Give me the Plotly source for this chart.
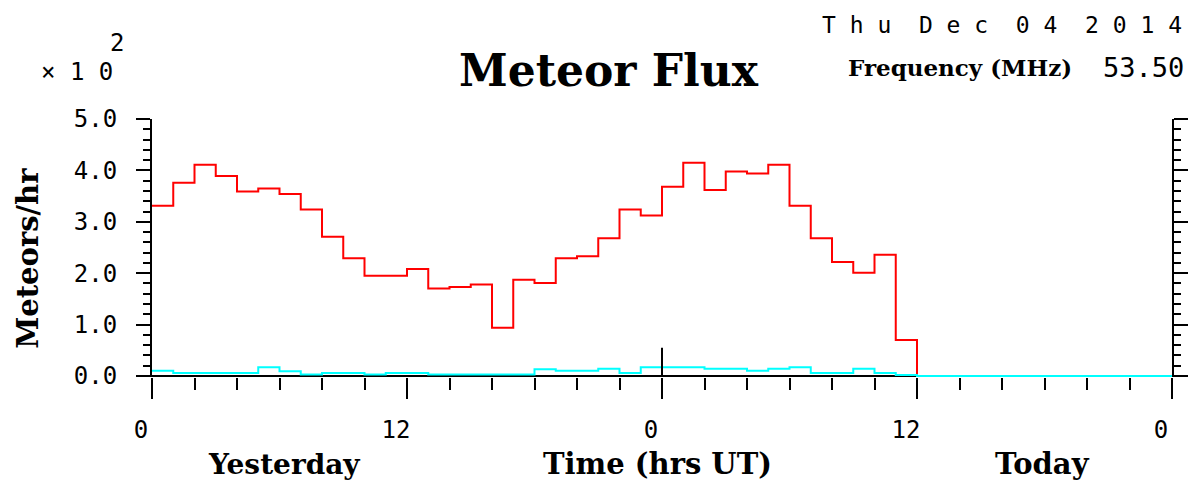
import plotly.graph_objects as go

# ---- data (hourly bins, x 10^2 meteors/hr) ----
hours = list(range(0, 49))
red_counts = [3.31, 3.76, 4.11, 3.89, 3.59, 3.65, 3.54, 3.24, 2.71, 2.29,
              1.95, 1.95, 2.08, 1.70, 1.73, 1.78, 0.94, 1.87, 1.81, 2.29,
              2.33, 2.68, 3.24, 3.12, 3.68, 4.15, 3.62, 3.98, 3.94, 4.11,
              3.31, 2.68, 2.22, 2.01, 2.36, 0.70]
cyan_counts = [0.10, 0.06, 0.06, 0.06, 0.06, 0.17, 0.09, 0.03, 0.06, 0.06,
               0.03, 0.06, 0.06, 0.03, 0.03, 0.03, 0.03, 0.03, 0.13, 0.10,
               0.10, 0.14, 0.06, 0.17, 0.17, 0.17, 0.14, 0.14, 0.10, 0.14,
               0.17, 0.06, 0.06, 0.14, 0.06, 0.02, 0.0, 0.0, 0.0, 0.0,
               0.0, 0.0, 0.0, 0.0, 0.0, 0.0, 0.0, 0.0]
x_tick_vals = [0, 12, 24, 36, 48]
x_tick_text = ["0", "12", "0", "12", "0"]
y_tick_vals = [0, 1, 2, 3, 4, 5]
y_tick_text = ["0.0", "1.0", "2.0", "3.0", "4.0", "5.0"]

W, H = 1200, 484
L, R, T, B = 152, W - 1179, 119, H - 377
PW, PH = W - L - R, H - T - B

def px(xp):  # page pixel -> paper x
    return (xp - L) / PW

def py(yp):  # page pixel -> paper y
    return (H - B - yp) / PH

mono = "DejaVu Sans Mono"
serif = "DejaVu Serif"

fig = go.Figure()
fig.add_trace(go.Scatter(
    x=hours[:len(red_counts) + 1], y=red_counts + [0.0],
    mode="lines", line=dict(color="#ff0000", width=2, shape="hv"),
    hoverinfo="skip", showlegend=False))
fig.add_trace(go.Scatter(
    x=hours[:len(cyan_counts) + 1], y=cyan_counts + [0.0],
    mode="lines", line=dict(color="#00ffff", width=2, shape="hv"),
    hoverinfo="skip", showlegend=False))

fig.update_layout(
    width=W, height=H,
    margin=dict(l=L, r=R, t=T, b=B, pad=0),
    paper_bgcolor="white", plot_bgcolor="white",
    showlegend=False,
    hovermode=False,
    xaxis=dict(
        range=[0, 48], showgrid=False, zeroline=False,
        showline=False,
        ticks="outside", ticklen=21, tickwidth=2, tickcolor="black",
        tickvals=x_tick_vals, ticktext=x_tick_text,
        tickfont=dict(family=mono, size=24, color="black"),
        ticklabelstandoff=10, ticklabelshift=-11,
        minor=dict(dtick=2, tick0=0, ticks="outside", ticklen=12,
                   tickwidth=2, tickcolor="black"),
        layer="below traces",
    ),
    yaxis=dict(
        range=[-0.02, 5.0], showgrid=False,
        zeroline=True, zerolinecolor="black", zerolinewidth=2,
        showline=True, linecolor="black", linewidth=2, mirror="ticks",
        ticks="outside", ticklen=14, tickwidth=2, tickcolor="black",
        tickvals=y_tick_vals, ticktext=y_tick_text,
        tickfont=dict(family=mono, size=24, color="black"),
        ticklabelstandoff=14,
        minor=dict(dtick=0.2, tick0=0, ticks="outside", ticklen=7,
                   tickwidth=2, tickcolor="black"),
        layer="below traces",
    ),
)

# inner tick at midnight
fig.add_shape(type="line", xref="x", yref="y", x0=24, x1=24, y0=0, y1=0.55,
              line=dict(color="black", width=2))

ann = []
def add(text, xp, yp, size, family, xanchor="center", yanchor="middle", angle=0):
    ann.append(dict(text=text, x=px(xp), y=py(yp), xref="paper", yref="paper",
                    xanchor=xanchor, yanchor=yanchor, showarrow=False,
                    textangle=angle,
                    font=dict(family=family, size=size, color="black")))

add("<b>Meteor Flux</b>", 612, 70, 44, serif)
add("\u00d7\u00a01\u00a00", 38, 72, 24, mono, xanchor="left")
add("2", 117, 43, 24, mono)
add("T\u00a0h\u00a0u\u00a0\u00a0D\u00a0e\u00a0c\u00a0\u00a00\u00a04\u00a0\u00a02\u00a00\u00a01\u00a04",
    1191, 25, 23, mono, xanchor="right")
add("<b>Frequency (MHz)</b>", 1080, 67, 23, serif, xanchor="right")
add("53.50", 1193, 67, 27, mono, xanchor="right")
add("<b>Meteors/hr</b>", 27, 258, 29, serif, angle=-90)
add("<b>Yesterday</b>", 285, 464, 28, serif)
add("<b>Time (hrs UT)</b>", 661, 464, 29, serif)
add("<b>Today</b>", 1049, 464, 29, serif)
fig.update_layout(annotations=ann)

fig.write_html(
    "out.html",
    config={"displayModeBar": False, "staticPlot": True},
    post_script="document.body.style.margin='0';document.body.style.overflow='hidden';",
)
